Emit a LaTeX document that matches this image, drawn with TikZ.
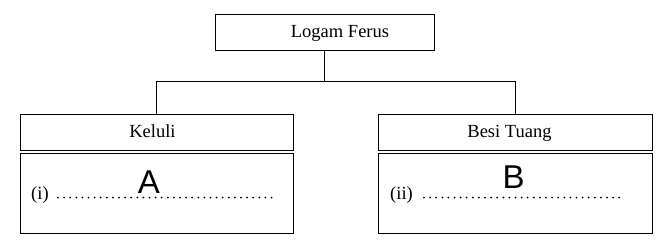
\documentclass[tikz,border=0pt]{standalone}
\usepackage{fontspec}
\setmainfont{Liberation Serif}
\newfontfamily\letterfont{Liberation Sans}
\tikzset{
  box/.style={draw, line width=1pt, rectangle, inner sep=0pt, text height=13pt, text depth=3pt,
    font=\fontsize{18.5}{22}\selectfont},
  tag/.style={anchor=base west, inner sep=0pt, font=\fontsize{18.5}{22}\selectfont},
  answer/.style={anchor=base, inner sep=0pt, font=\letterfont\fontsize{33}{36}\selectfont},
  dots/.style={line width=2pt, line cap=round, dash pattern=on 0pt off 6.1pt}
}
\begin{document}
\begin{tikzpicture}[x=1pt,y=1pt]
\useasboundingbox (0,0) rectangle (659,-242);

\node[box, minimum width=219, minimum height=36] (ferus) at (324.5,-32) {\hspace*{31pt}Logam Ferus};
\node[box, minimum width=273, minimum height=36] (keluli) at (156.5,-132) {Keluli\hspace*{8pt}};
\node[box, minimum width=274, minimum height=36] (besi) at (515,-132) {Besi Tuang\hspace*{11pt}};
\node[box, minimum width=273, minimum height=80] (ansA) at (156.5,-193) {};
\node[box, minimum width=274, minimum height=80] (ansB) at (515,-193) {};

\coordinate (bus) at (324.5,-81);
\draw[line width=1pt] (ferus.south) -- (bus);
\draw[line width=1pt] (keluli.north) -- (keluli.north |- bus) -- (besi.north |- bus) -- (besi.north);

\node[tag] (roman1) at (31,-199.5) {(i)};
\coordinate (dotsA) at (58,-197.5);
\coordinate (dotsAend) at (277,-197.5);
\draw[dots] (dotsA) -- (dotsAend);
\node[answer] (letterA) at (149,-193) {A};

\node[tag] (roman2) at (390,-199.5) {(ii)};
\coordinate (dotsB) at (424,-197.5);
\coordinate (dotsBend) at (620,-197.5);
\draw[dots] (dotsB) -- (dotsBend);
\node[answer] (letterB) at (513.7,-188.3) {B};
\end{tikzpicture}
\end{document}
